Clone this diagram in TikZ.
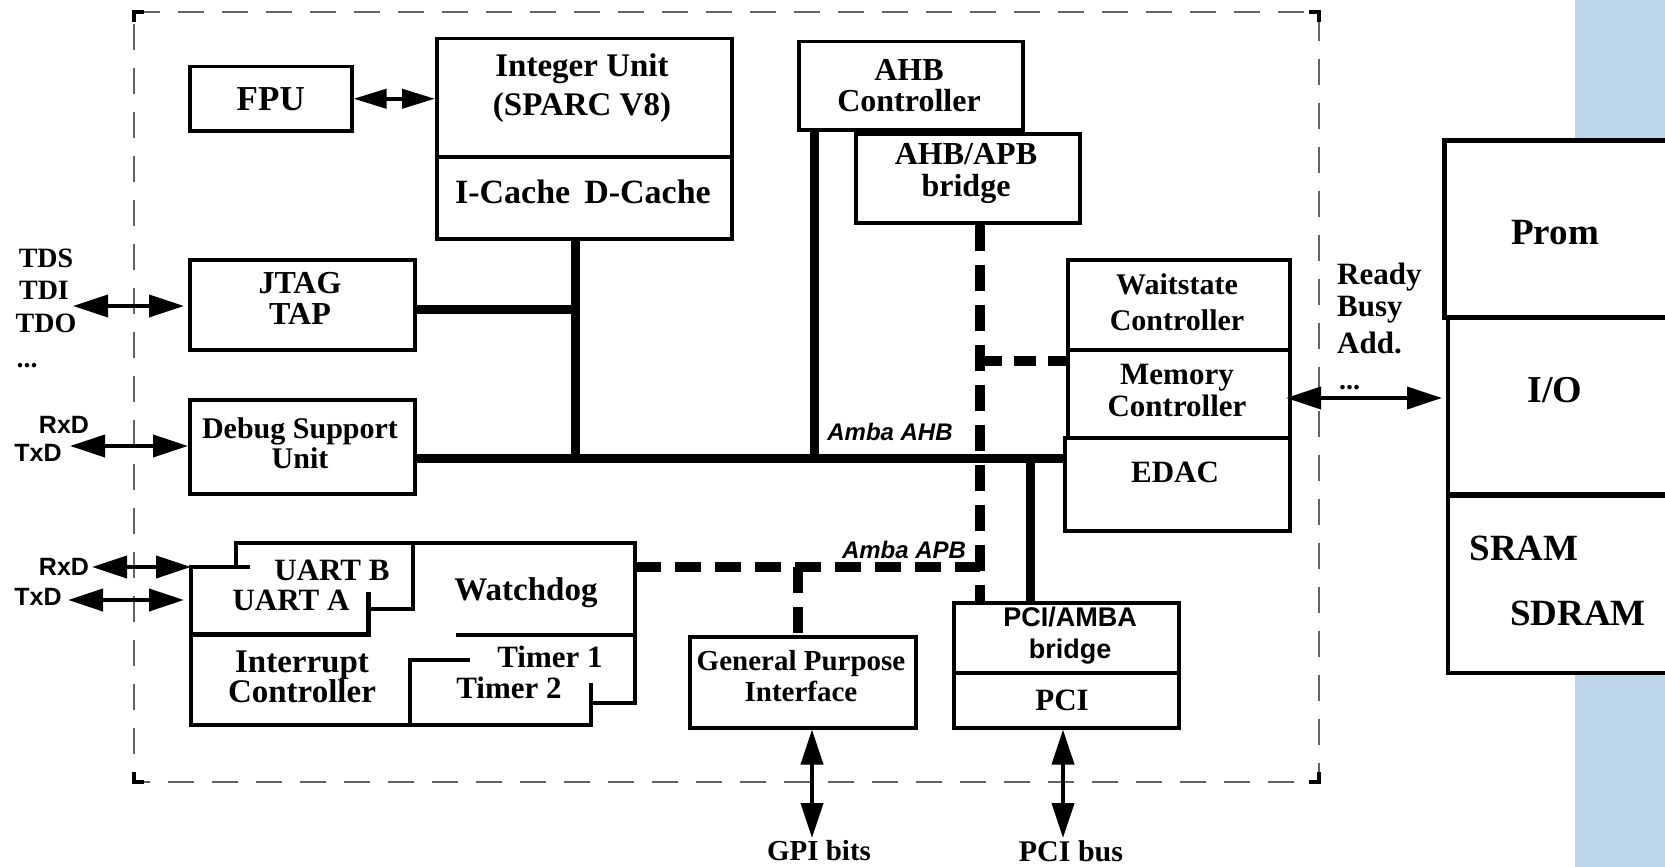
\documentclass[tikz,border=0pt]{standalone}
\usepackage{fontspec}
\setmainfont{Liberation Serif}
\setsansfont{Liberation Sans}
\usetikzlibrary{arrows.meta}
\definecolor{bgblue}{RGB}{190,214,234}
\definecolor{bordergray}{RGB}{100,100,100}
\begin{document}
\begin{tikzpicture}[x=1pt,y=-1pt,
 blk/.style={draw,line width=3.5pt,inner sep=0pt,anchor=north west},
 ln/.style={line width=3.5pt},
 bus/.style={line width=9pt},
 apb/.style={line width=10pt,dash pattern=on 26pt off 14pt},
 arr/.style={line width=4pt,{Triangle[length=35pt,width=22pt]}-{Triangle[length=35pt,width=22pt]}},
 txt/.style 2 args={inner sep=0pt,align=center,font=\bfseries\fontsize{#1}{#2}\selectfont},
 stxt/.style 2 args={inner sep=0pt,align=center,font=\sffamily\bfseries\fontsize{#1}{#2}\selectfont},
 itxt/.style={inner sep=0pt,font=\sffamily\bfseries\itshape\fontsize{24}{24}\selectfont},
 border/.style={bordergray,line width=1.5pt,dash pattern=on 26pt off 18pt},
 corner/.style={line width=4pt}
]
\useasboundingbox (0,0) rectangle (1665,867);
\clip (0,0) rectangle (1665,867);
\fill[bgblue] (1575,0) rectangle (1665,867);

% chip border
\draw[border] (134,12) -- (1319,12) -- (1319,782) -- (134,782) -- cycle;
\draw[corner] (134,22) -- (134,12) -- (144,12);
\draw[corner] (1309,12) -- (1319,12) -- (1319,22);
\draw[corner] (134,772) -- (134,782) -- (144,782);
\draw[corner] (1309,782) -- (1319,782) -- (1319,772);

% boxes
\node[blk,minimum width=162pt,minimum height=64pt] (fpu) at (188,65) {};
\node[txt={35}{35}] (fput) at (fpu.center) {FPU};
\node[blk,minimum width=295pt,minimum height=118pt] (iu) at (435,37) {};
\node[txt={33}{39}] (iut) at (582,88) {Integer Unit\\(SPARC V8)};
\node[blk,minimum width=295pt,minimum height=82pt] (cache) at (435,155) {};
\node[txt={34}{34}] (cachet) at (583,192) {I-Cache\hspace{14pt}D-Cache};
\node[blk,minimum width=225pt,minimum height=90pt] (jtag) at (188,258) {};
\node[txt={32}{31}] (jtagt) at (300,298) {JTAG\\TAP};
\node[blk,minimum width=225pt,minimum height=94pt] (dsu) at (188,398) {};
\node[txt={30}{30}] (dsut) at (300,443) {Debug Support\\Unit};
\node[blk,minimum width=224pt,minimum height=88pt] (ahbc) at (797,40) {};
\node[txt={32}{31}] (ahbct) at (909,86) {AHB\\Controller};
\node[blk,minimum width=224pt,minimum height=89pt] (bridge) at (854,132) {};
\node[txt={32}{32}] (bridget) at (966,173) {AHB/APB\\bridge};
\node[blk,minimum width=222pt,minimum height=90pt] (wait) at (1066,258) {};
\node[txt={30}{36}] (waitt) at (1177,302) {Waitstate\\Controller};
\node[blk,minimum width=222pt,minimum height=88pt] (memc) at (1066,348) {};
\node[txt={31}{32}] (memct) at (1177,390) {Memory\\Controller};
\node[blk,minimum width=225pt,minimum height=93pt] (edac) at (1063,436) {};
\node[txt={31}{31}] (edact) at (1175,472) {EDAC};
\node[blk,minimum width=226pt,minimum height=91pt] (gpi) at (688,635) {};
\node[txt={29}{31}] (gpit) at (801,676) {General Purpose\\Interface};
\node[blk,minimum width=225pt,minimum height=70pt] (pcib) at (952,601) {};
\node[stxt={27}{32}] (pcibt) at (1070,636) {PCI/AMBA\\bridge};
\node[blk,minimum width=225pt,minimum height=55pt] (pci) at (952,671) {};
\node[txt={31}{31}] (pcit) at (1062,700) {PCI};

% external memory
\fill[white] (1442,138) rectangle (1665,671);
\node[blk,minimum width=260pt,minimum height=177pt] (io) at (1446,315) {};
\node[blk,minimum width=260pt,minimum height=177pt] (sram) at (1446,494) {};
\node[blk,line width=4.5pt,minimum width=264pt,minimum height=177pt] (prom) at (1442,138) {};
\node[txt={37}{37}] (promt) at (1555,233) {Prom};
\node[txt={38}{38}] (iot) at (1555,390) {I/O};
\node[txt={37}{37}] (sramt) at (1524,548) {SRAM};
\node[txt={37}{37}] (sdramt) at (1578,613) {SDRAM};

% UART / watchdog / interrupt / timer cluster
\draw[ln] (236,567) -- (236,543) -- (635,543) -- (635,703) -- (591,703);
\draw[ln] (413,543) -- (413,609) -- (368,609);
\draw[ln] (250,567) -- (191,567) -- (191,725) -- (591,725) -- (591,683);
\draw[ln,line width=5pt] (191,634) -- (368,634) -- (368,592);
\draw[ln] (456,635) -- (635,635);
\draw[ln] (470,660) -- (410,660) -- (410,725);
\node[txt={31}{31}] (uartbt) at (332,570) {UART B};
\node[txt={31}{31}] (uartat) at (291,600) {UART A};
\node[txt={33}{33}] (watcht) at (526,593) {Watchdog};
\node[txt={33}{30}] (irqt) at (302,677) {Interrupt\\Controller};
\node[txt={31}{31}] (tim1t) at (550,657) {Timer 1};
\node[txt={31}{31}] (tim2t) at (509,688) {Timer 2};
\coordinate (uartA) at (191,567);
\coordinate (uartAtx) at (191,600);
\coordinate (watchE) at (635,567);

% AHB bus
\coordinate (j1) at (575,458);
\coordinate (j2) at (575,309);
\coordinate (j3) at (814,458);
\coordinate (j4) at (1030,458);
\draw[bus] (cache.south -| j1) -- (j1);
\draw[bus] (jtag.east |- j2) -- (j2);
\draw[bus] (dsu.east |- j1) -- (edac.west |- j1);
\draw[bus] (ahbc.south -| j3) -- (j3);
\draw[bus] (j4) -- (pcib.north -| j4);

% APB bus
\coordinate (a1) at (980,567);
\coordinate (a2) at (798,567);
\coordinate (a3) at (980,361);
\draw[apb] (bridge.south -| a1) -- (pcib.north -| a1);
\draw[apb] (watchE) -- (a1);
\draw[apb,dash pattern=on 22pt off 12pt] (a3) -- (memc.west |- a3);
\draw[apb] (a2) -- (gpi.north -| a2);
\node[itxt] (ahbl) at (890,432) {Amba AHB};
\node[itxt] (apbl) at (904,550) {Amba APB};

% external signals
\node[txt={28}{28}] (tds) at (46,258) {TDS};
\node[txt={28}{28}] (tdi) at (44,290) {TDI};
\node[txt={28}{28}] (tdo) at (46,323) {TDO};
\node[txt={28}{28}] (dots1) at (27,366) {...};
\node[stxt={25}{25}] (rxd1) at (64,425) {RxD};
\node[stxt={25}{25}] (txd1) at (38,453) {TxD};
\node[stxt={25}{25}] (rxd2) at (64,567) {RxD};
\node[stxt={25}{25}] (txd2) at (38,597) {TxD};
\node[txt={31}{31},anchor=west] (ready) at (1337,277) {Ready};
\node[txt={31}{31},anchor=west] (busy) at (1337,310) {Busy};
\node[txt={31}{31},anchor=west] (add) at (1337,343) {Add.};
\node[txt={28}{28},anchor=west] (dots2) at (1339,388) {...};
\node[txt={29}{29}] (gpibits) at (819,851) {GPI bits};
\node[txt={30}{30}] (pcibus) at (1071,851) {PCI bus};

\coordinate (tdiL) at (73,306);
\coordinate (dsuL) at (70,446);
\coordinate (rxL) at (92,567);
\coordinate (txL) at (68,600);
\coordinate (mA) at (1286,398);
\coordinate (gpiB) at (812,838);
\coordinate (pciB) at (1063,838);
\draw[line width=4pt,{Triangle[length=33pt,width=19pt]}-{Triangle[length=33pt,width=19pt]}] (fpu.east) -- (iu.west |- fpu.east);
\draw[arr,shorten >=4pt] (tdiL) -- (jtag.west |- tdiL);
\draw[arr] (dsuL) -- (dsu.west |- dsuL);
\draw[arr] (rxL) -- (uartA);
\draw[arr,shorten >=7pt] (txL) -- (uartAtx);
\draw[arr] (mA) -- (prom.west |- mA);
\draw[arr] (gpi.south -| gpiB) -- (gpiB);
\draw[arr] (pci.south -| pciB) -- (pciB);
\end{tikzpicture}
\end{document}
